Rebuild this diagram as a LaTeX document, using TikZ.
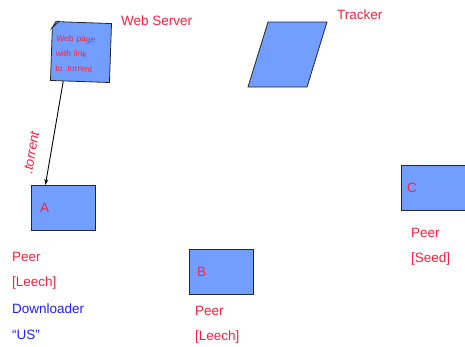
\documentclass[tikz,border=0pt]{standalone}
\usepackage{fontspec}
\setmainfont{Liberation Sans}
\usetikzlibrary{positioning, calc, arrows.meta}
\definecolor{boxblue}{RGB}{114,159,255}
\definecolor{labred}{RGB}{255,30,60}
\definecolor{labblue}{RGB}{30,30,255}
\tikzset{
	x = 1pt, y = -1pt,
	node distance = 12pt,
	peer/.style = {
		draw = black!85,
		fill = boxblue,
		line width = 0.8pt,
		minimum width = 64pt,
		minimum height = 45pt,
		anchor = north west
	},
	tag/.style = {
		text = labred,
		font = \fontsize{13.5}{16}\selectfont,
		inner sep = 0pt,
		anchor = west
	},
	page/.style = {
		draw = black!85,
		fill = boxblue,
		line width = 0.8pt,
		minimum size = 59pt,
		rotate = -2,
		text width = 50pt,
		align = left,
		text = labred,
		font = \fontsize{8.5}{15}\selectfont
	}
}

\begin{document}
\begin{tikzpicture}
		\useasboundingbox (0,0) rectangle (465,346);

		% web server with its page
		\node[page] (W) at (81,52) {\mbox{}\\[-5pt]Web page\\with link\\to .torrent};
		\fill[white] (W.north west) -- ($(W.north west)!7pt!(W.north east)$)
			-- ($(W.north west)!7pt!(W.south west)$) -- cycle;
		\draw[line width=0.8pt, draw=black!85, fill=boxblue]
			($(W.north west)!7pt!(W.north east)$) -- ($(W.north west)!7pt!(W.south west)$)
			-- ($(W.north west)!4pt!(W.north east)$) -- cycle;
		\node[tag] (ws) at (121,21) {Web Server};

		% tracker
		\draw[line width=0.8pt, draw=black!85, fill=boxblue]
			(248,87) -- (268,22) -- (327,22) -- (307,87) -- cycle;
		\node[tag] (tr) at (337,15) {Tracker};

		% peers
		\node[peer] (A) at (31,185) {};
		\node[tag] at ([xshift=9pt]A.west) {A};
		\node[peer] (B) at (189,249) {};
		\node[tag] at ([xshift=8pt]B.west) {B};
		\node[peer] (C) at (401,165) {};
		\node[tag] at ([xshift=6pt]C.west) {C};

		\node[tag] (pa) at (12,257) {Peer};
		\node[tag] (la) at (12,283) {[Leech]};
		\node[tag, text=labblue] (da) at (12,309) {Downloader};
		\node[tag, text=labblue] (ua) at (12,335) {“US”};

		\node[tag] (pb) at (195,311) {Peer};
		\node[tag] (lb) at (195,337) {[Leech]};

		\node[tag] (pc) at (411,233) {Peer};
		\node[tag] (sc) at (411,259) {[Seed]};

		% download of the .torrent file
		\draw[-{Stealth[length=6pt,width=4pt]}, line width=0.9pt]
			($(W.south west)!0.22!(W.south east)$) -- ([xshift=-18pt]A.north)
			node[pos=0.72, sloped, above=11pt, text=labred,
				font=\fontsize{13.5}{16}\selectfont\itshape] (tt) {.torrent};

	\end{tikzpicture}
\end{document}
